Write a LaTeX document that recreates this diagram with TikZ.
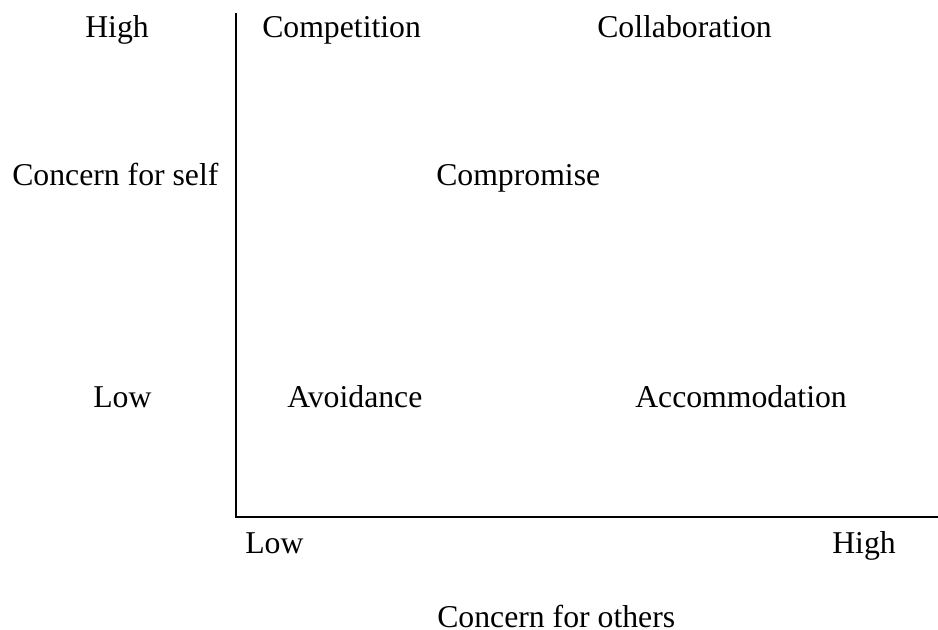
\documentclass[tikz,border=0pt]{standalone}
\usepackage{fontspec}
\setmainfont{Liberation Serif}
\begin{document}
\begin{tikzpicture}[x=0.75pt,y=-0.75pt,
  lbl/.style={inner sep=0pt,anchor=base west,font=\fontsize{23.8}{28}\selectfont},
  axisline/.style={line width=1.5pt,line cap=rect}]
\useasboundingbox (0,0) rectangle (938,630);
% axes
\coordinate (top) at (236,14);
\coordinate (origin) at (236,517);
\coordinate (right) at (938,517);
\draw[axisline] (top) -- (origin) -- (right);
% vertical axis labels
\node[lbl] (yhigh) at (85,38) {High};
\node[lbl] (ytitle) at (12,186) {Concern for self};
\node[lbl] (ylow) at (93,407) {Low};
% quadrant labels
\node[lbl] (competition) at (262,38) {Competition};
\node[lbl] (collaboration) at (597,38) {Collaboration};
\node[lbl] (compromise) at (436,186) {Compromise};
\node[lbl] (avoidance) at (287,407) {Avoidance};
\node[lbl] (accommodation) at (635,407) {Accommodation};
% horizontal axis labels
\node[lbl] (xlow) at (245,553) {Low};
\node[lbl] (xhigh) at (832,553) {High};
\node[lbl] (xtitle) at (437,627) {Concern for others};
\end{tikzpicture}
\end{document}
